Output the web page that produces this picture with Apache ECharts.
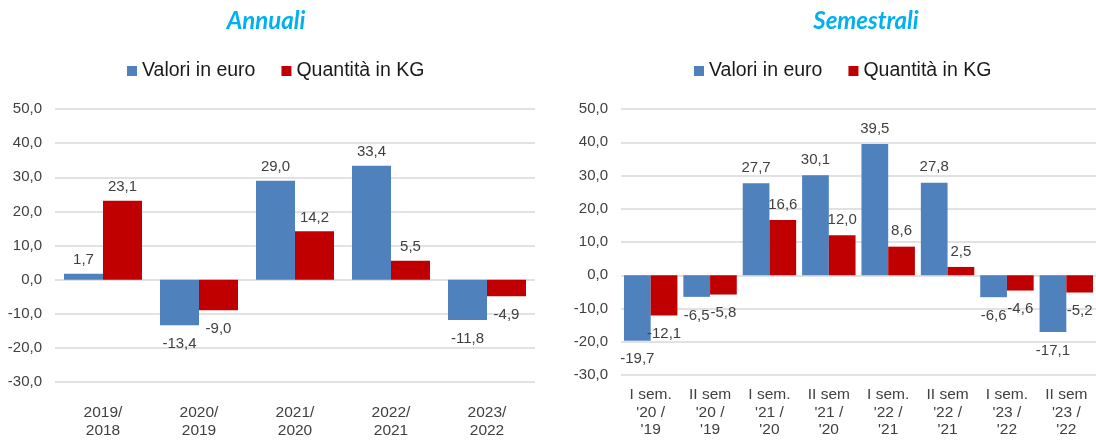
<!DOCTYPE html>
<html>
<head>
<meta charset="utf-8">
<script src="https://cdn.jsdelivr.net/npm/echarts@6/dist/echarts.min.js"></script>
<style>
html,body{margin:0;padding:0;background:#fff;}
#main{width:1096px;height:442px;}
</style>
</head>
<body>
<div id="main"></div>
<script>
const seriesNames = ['Valori in euro', 'Quantità in KG'];
const annualCategories = ['2019/\n2018', '2020/\n2019', '2021/\n2020', '2022/\n2021', '2023/\n2022'];
const annualValori = [1.7, -13.4, 29.0, 33.4, -11.8];
const annualQuantita = [23.1, -9.0, 14.2, 5.5, -4.9];
const semCategories = ["I sem.\n'20 /\n'19", "II sem\n'20 /\n'19", "I sem.\n'21 /\n'20", "II sem\n'21 /\n'20", "I sem.\n'22 /\n'21", "II sem\n'22 /\n'21", "I sem.\n'23 /\n'22", "II sem\n'23 /\n'22"];
const semValori = [-19.7, -6.5, 27.7, 30.1, 39.5, 27.8, -6.6, -17.1];
const semQuantita = [-12.1, -5.8, 16.6, 12.0, 8.6, 2.5, -4.6, -5.2];
const titles = ['Annuali', 'Semestrali'];

const FONT = '"Liberation Sans", Arial, sans-serif';
const TXT = '#404040';
const BLUE = '#4f81bd';
const RED = '#c00000';
const fmt = v => v.toFixed(1).replace('.', ',');

function mkData(arr, posDist, negDist) {
  return arr.map(v => ({
    value: v,
    label: { position: v < 0 ? 'bottom' : 'top', distance: v < 0 ? negDist : posDist }
  }));
}
function mkSeries(name, arr, color, idx, gap, posDist, negDist) {
  return {
    name: name, type: 'bar', xAxisIndex: idx, yAxisIndex: idx,
    data: mkData(arr, posDist, negDist),
    itemStyle: { color: color },
    barGap: '0%', barCategoryGap: gap,
    label: { show: true, color: TXT, fontSize: 15, fontFamily: FONT,
      formatter: p => fmt(p.value) },
    animation: false
  };
}
function yAx(idx) {
  return {
    type: 'value', gridIndex: idx, min: -30, max: 50, interval: 10,
    axisLabel: { formatter: v => fmt(v), color: TXT, fontSize: 15, fontFamily: FONT, margin: 13 },
    axisLine: { show: false }, axisTick: { show: false },
    splitLine: { lineStyle: { color: '#d9d9d9', width: 1.5 } }
  };
}
function xAx(idx, cats, margin) {
  return {
    type: 'category', gridIndex: idx, data: cats,
    axisLine: { show: false, onZero: false }, axisTick: { show: false },
    axisLabel: { color: TXT, fontSize: 15.5, fontFamily: FONT, lineHeight: 17.5, margin: margin, interval: 0 }
  };
}
const legendCommon = {
  itemWidth: 10, itemHeight: 10, itemGap: 26, icon: 'rect', padding: 0,
  textStyle: { color: '#1a1a1a', fontSize: 19.5, fontFamily: FONT },
  data: seriesNames
};

const chart = echarts.init(document.getElementById('main'), null, { renderer: 'canvas' });
chart.setOption({
  animation: false,
  backgroundColor: '#fff',
  graphic: [
    { type: 'text', x: 266, y: 21, style: { text: titles[0], align: 'center', verticalAlign: 'middle',
      font: 'italic bold 24px Lato, sans-serif', fill: '#00b0f0' } },
    { type: 'text', x: 866, y: 21, style: { text: titles[1], align: 'center', verticalAlign: 'middle',
      font: 'italic bold 24px Lato, sans-serif', fill: '#00b0f0' } }
  ],
  legend: [
    Object.assign({ left: 127, top: 61 }, legendCommon),
    Object.assign({ left: 694, top: 61 }, legendCommon)
  ],
  grid: [
    { left: 55, top: 109, width: 480, height: 273 },
    { left: 621, top: 109, width: 480, height: 266 }
  ],
  xAxis: [xAx(0, annualCategories, 22), xAx(1, semCategories, 11)],
  yAxis: [yAx(0), yAx(1)],
  series: [
    mkSeries(seriesNames[0], annualValori, BLUE, 0, '18.75%', 6, 11),
    mkSeries(seriesNames[1], annualQuantita, RED, 0, '18.75%', 6, 11),
    mkSeries(seriesNames[0], semValori, BLUE, 1, '10%', 8, 11),
    mkSeries(seriesNames[1], semQuantita, RED, 1, '10%', 8, 11)
  ]
});
</script>
</body>
</html>
